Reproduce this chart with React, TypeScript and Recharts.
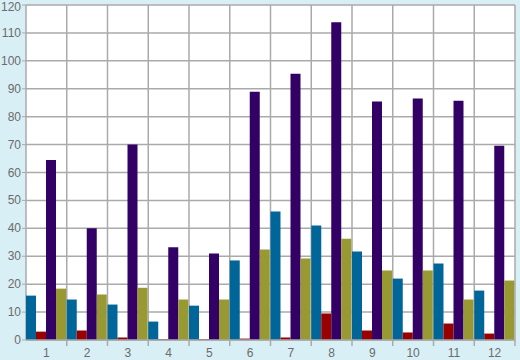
import { BarChart, Bar, XAxis, YAxis, CartesianGrid } from "recharts";

const COLORS = {
  bg: "#d9eff6",
  plot: "#ffffff",
  grid: "#aaaaaa",
  text: "#6b6b6b",
  teal: "#006699",
  red: "#990000",
  purple: "#330066",
  olive: "#999933",
};

const categories = ["1", "2", "3", "4", "5", "6", "7", "8", "9", "10", "11", "12"];
const tealValues = [15.9, 14.5, 12.7, 6.6, 12.3, 28.5, 46, 41, 31.7, 22, 27.4, 17.7];
const redValues = [3.0, 3.4, 0.9, 0.3, 0.3, 0.5, 0.9, 9.5, 3.4, 2.7, 5.9, 2.3];
const purpleValues = [64.5, 40, 70, 33.2, 31, 88.9, 95.4, 113.8, 85.4, 86.5, 85.7, 69.6];
const oliveValues = [18.4, 16.3, 18.7, 14.5, 14.5, 32.4, 29.2, 36.3, 24.9, 24.9, 14.5, 21.3];
const yTicks = [0, 10, 20, 30, 40, 50, 60, 70, 80, 90, 100, 110, 120];

const data = categories.map((name, i) => ({
  name,
  teal: tealValues[i],
  red: redValues[i],
  purple: purpleValues[i],
  olive: oliveValues[i],
}));

const WIDTH = 520;
const HEIGHT = 360;
const MARGIN = { top: 5, right: 5, left: 0, bottom: 0 };
const Y_AXIS_W = 26;
const X_AXIS_H = 20;
const FONT = "Liberation Sans";
const BAND = (WIDTH - MARGIN.left - MARGIN.right - Y_AXIS_W) / categories.length;

// label centered in the band, tick mark on the band's right edge
function XTick({ x, y, payload }: { x?: number; y?: number; payload?: { value: string } }) {
  const cx = x ?? 0;
  const cy = y ?? 0;
  return (
    <g>
      <line x1={cx + BAND / 2} x2={cx + BAND / 2} y1={cy} y2={cy + 6} stroke={COLORS.grid} strokeWidth={1.5} />
      <text x={cx} y={cy + 17} textAnchor="middle" fill={COLORS.text} fontSize={12} fontFamily={FONT}>
        {payload?.value}
      </text>
    </g>
  );
}

// keep the top label (120) inside the picture
function YTick({ x, y, payload }: { x?: number; y?: number; payload?: { value: number } }) {
  const ty = Math.max(y ?? 0, 6.5);
  return (
    <text x={x} y={ty} dy={4} textAnchor="end" fill={COLORS.text} fontSize={12} fontFamily={FONT}>
      {payload?.value}
    </text>
  );
}

function verticalLines({ offset }: { offset: { left: number; width: number } }) {
  return Array.from({ length: categories.length + 1 }, (_, i) => offset.left + (i * offset.width) / categories.length);
}

export default function App() {
  return (
    <div style={{ position: "absolute", left: 0, top: 0, width: WIDTH, height: HEIGHT, background: COLORS.bg }}>
      <BarChart width={WIDTH} height={HEIGHT} data={data} margin={MARGIN} barCategoryGap={0} barGap={0}>
        <CartesianGrid stroke={COLORS.grid} strokeWidth={1.5} fill={COLORS.plot} fillOpacity={1} verticalCoordinatesGenerator={verticalLines as any} />
        <XAxis
          dataKey="name"
          height={X_AXIS_H}
          tick={<XTick />}
          tickLine={false}
          tickSize={0}
          tickMargin={0}
          axisLine={{ stroke: COLORS.grid, strokeWidth: 1.5 }}
          interval={0}
        />
        <YAxis
          domain={[0, 120]}
          ticks={yTicks}
          width={Y_AXIS_W}
          axisLine={false}
          tickLine={{ stroke: COLORS.grid }}
          tickSize={4}
          tickMargin={1}
          interval={0}
          tick={<YTick />}
        />
        <Bar dataKey="teal" fill={COLORS.teal} isAnimationActive={false} />
        <Bar dataKey="red" fill={COLORS.red} isAnimationActive={false} />
        <Bar dataKey="purple" fill={COLORS.purple} isAnimationActive={false} />
        <Bar dataKey="olive" fill={COLORS.olive} isAnimationActive={false} />
      </BarChart>
    </div>
  );
}
